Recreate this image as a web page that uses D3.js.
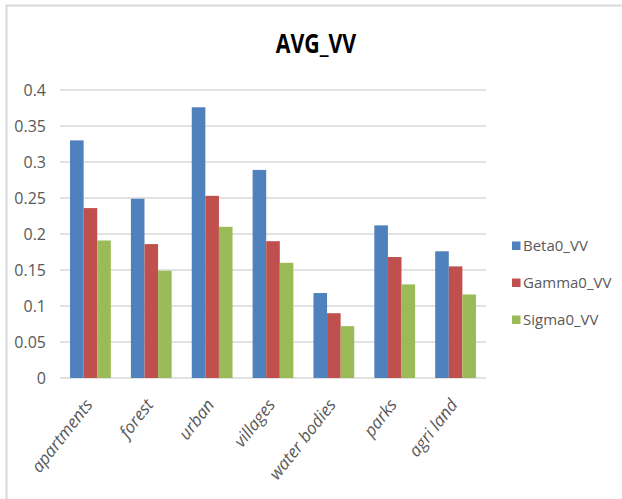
<!DOCTYPE html>
<html>
<head>
<meta charset="utf-8">
<script src="https://cdn.jsdelivr.net/npm/d3@7"></script>
<style>
  html, body { margin: 0; padding: 0; background: #fff; }
  svg { display: block; }
  text { font-family: "Open Sans", "Noto Sans", sans-serif; }
</style>
</head>
<body>
<svg id="chart" width="622" height="499"></svg>
<script>
// Land-cover classes on the x axis
const categories = ["apartments", "forest", "urban", "villages", "water bodies", "parks", "agri land"];

// Average VV backscatter per class
const beta0VV  = [0.330, 0.249, 0.376, 0.289, 0.118, 0.212, 0.176];
const gamma0VV = [0.236, 0.186, 0.253, 0.190, 0.090, 0.168, 0.155];
const sigma0VV = [0.191, 0.149, 0.210, 0.160, 0.072, 0.130, 0.116];

const seriesNames = ["Beta0_VV", "Gamma0_VV", "Sigma0_VV"];
const seriesColors = ["#4F81BD", "#C0504D", "#9BBB59"];
const yTicks = [0, 0.05, 0.1, 0.15, 0.2, 0.25, 0.3, 0.35, 0.4];

const series = [beta0VV, gamma0VV, sigma0VV];

const svg = d3.select("#chart");

// Chart frame (left and top edges)
svg.append("path")
  .attr("d", "M6.5,499 V5.5 H622")
  .attr("fill", "none")
  .attr("stroke", "#d9d9d9")
  .attr("stroke-width", 2);

const plot = { left: 60, right: 486, top: 90, bottom: 378 };

const x = d3.scaleBand()
  .domain(categories)
  .range([plot.left, plot.right])
  .paddingInner(0.33)
  .paddingOuter(0.165);

const xSub = d3.scaleBand()
  .domain(seriesNames)
  .range([0, x.bandwidth()]);

const y = d3.scaleLinear()
  .domain([0, 0.4])
  .range([plot.bottom, plot.top]);

// Horizontal gridlines
svg.append("g")
  .selectAll("line")
  .data(yTicks)
  .join("line")
  .attr("x1", plot.left)
  .attr("x2", plot.right)
  .attr("y1", d => y(d))
  .attr("y2", d => y(d))
  .attr("stroke", "#d9d9d9")
  .attr("stroke-width", 1.5);

// Y axis labels
const yAxis = d3.axisLeft(y)
  .tickValues(yTicks)
  .tickFormat(d => String(+d.toFixed(2)))
  .tickSize(0)
  .tickPadding(14);

svg.append("g")
  .attr("transform", `translate(${plot.left},0)`)
  .call(yAxis)
  .call(g => g.select(".domain").remove())
  .call(g => g.selectAll("text")
    .attr("fill", "#595959")
    .style("font-size", "16px"));

// Bars
const groups = svg.append("g")
  .selectAll("g")
  .data(categories)
  .join("g")
  .attr("transform", d => `translate(${x(d)},0)`);

groups.selectAll("rect")
  .data((c, i) => series.map((s, k) => ({ name: seriesNames[k], value: s[i], color: seriesColors[k] })))
  .join("rect")
  .attr("x", d => xSub(d.name))
  .attr("width", xSub.bandwidth())
  .attr("y", d => y(d.value))
  .attr("height", d => y(0) - y(d.value))
  .attr("fill", d => d.color);

// X axis labels, rotated
const xAxis = d3.axisBottom(x).tickSize(0).tickPadding(0);
svg.append("g")
  .attr("transform", `translate(0,${plot.bottom})`)
  .call(xAxis)
  .call(g => g.select(".domain").remove())
  .call(g => g.selectAll("text")
    .attr("fill", "#595959")
    .attr("font-style", "italic")
    .style("font-size", "17px")
    .attr("text-anchor", "end")
    .attr("dy", null)
    .attr("y", 0)
    .attr("transform", "translate(3,27) rotate(-52)"));

// Title (narrowed horizontally)
svg.append("g")
  .attr("transform", "translate(316,53) scale(0.82,1)")
  .append("text")
  .attr("text-anchor", "middle")
  .attr("font-weight", "bold")
  .attr("fill", "#000")
  .style("font-size", "26px")
  .text("AVG_VV");

// Legend
const legend = svg.append("g")
  .selectAll("g")
  .data(seriesNames)
  .join("g")
  .attr("transform", (d, i) => `translate(512,${246 + i * 37})`);

legend.append("rect")
  .attr("x", 0)
  .attr("y", -4.5)
  .attr("width", 8.5)
  .attr("height", 8.5)
  .attr("fill", (d, i) => seriesColors[i]);

legend.append("text")
  .attr("x", 11)
  .attr("y", 0)
  .attr("dy", "0.35em")
  .attr("fill", "#595959")
  .style("font-size", "15px")
  .text(d => d);
</script>
</body>
</html>
